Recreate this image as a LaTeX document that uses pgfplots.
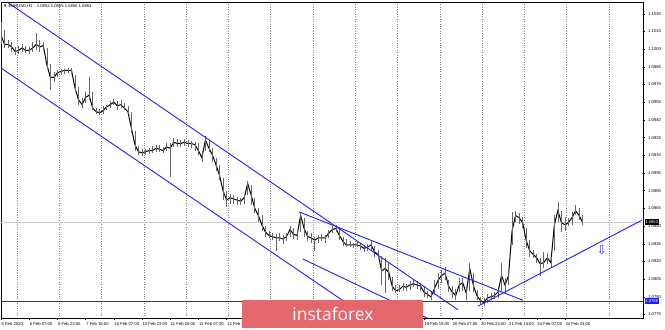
\documentclass[border=0pt]{standalone}
\usepackage{fontspec}
\setmainfont{Liberation Sans}
\newfontfamily\dejavu{DejaVu Sans}
\newfontfamily\opensans{Open Sans}
\usepackage{pgfplots}
\usepackage{pgfplotstable}
\pgfplotsset{compat=1.18}
\definecolor{mtblue}{RGB}{30,30,250}
\definecolor{logored}{RGB}{226,104,108}

\pgfplotstableread{
b c h l
0 1.1012 1.1023 1.1004
2 1.1004 1.1016 1.1001
4 1.1004 1.1008 1.1001
6 1.1002 1.1006 1.0998
8 1.0998 1.1002 1.0995
10 1.0999 1.1003 1.0996
12 1.1001 1.1004 1.0998
14 1.0999 1.1003 1.0997
16 1.0999 1.1002 1.0996
18 1.1001 1.1006 1.0998
20 1.1004 1.1014 1.0999
22 1.1002 1.1008 1.0998
24 1.1003 1.1006 1.0999
26 1.0987 1.1001 1.0984
28 1.0976 1.0987 1.0965
30 1.0976 1.0981 1.0972
32 1.0980 1.0982 1.0976
34 1.0981 1.0983 1.0978
36 1.0982 1.0983 1.0979
38 1.0982 1.0984 1.0980
40 1.0982 1.0984 1.0979
42 1.0967 1.0978 1.0964
44 1.0957 1.0968 1.0953
46 1.0953 1.0959 1.0950
48 1.0959 1.0964 1.0954
50 1.0961 1.0976 1.0957
52 1.0950 1.0964 1.0948
54 1.0947 1.0950 1.0945
56 1.0946 1.0949 1.0944
58 1.0948 1.0952 1.0945
60 1.0951 1.0953 1.0948
62 1.0953 1.0956 1.0950
64 1.0955 1.0958 1.0953
66 1.0952 1.0956 1.0948
68 1.0953 1.0957 1.0950
70 1.0950 1.0954 1.0948
72 1.0947 1.0952 1.0945
74 1.0933 1.0947 1.0929
76 1.0919 1.0931 1.0914
78 1.0913 1.0918 1.0910
80 1.0912 1.0915 1.0909
82 1.0913 1.0915 1.0910
84 1.0914 1.0916 1.0911
86 1.0914 1.0918 1.0912
88 1.0916 1.0919 1.0913
90 1.0915 1.0919 1.0913
92 1.0914 1.0917 1.0912
94 1.0917 1.0920 1.0914
96 1.0916 1.0920 1.0892
98 1.0921 1.0925 1.0917
100 1.0920 1.0924 1.0917
102 1.0920 1.0923 1.0917
104 1.0921 1.0924 1.0918
106 1.0920 1.0923 1.0917
108 1.0920 1.0922 1.0916
110 1.0919 1.0921 1.0914
112 1.0914 1.0920 1.0910
114 1.0908 1.0914 1.0904
116 1.0923 1.0926 1.0914
118 1.0916 1.0923 1.0913
120 1.0910 1.0916 1.0904
122 1.0902 1.0908 1.0897
124 1.0893 1.0902 1.0889
126 1.0880 1.0891 1.0872
128 1.0872 1.0880 1.0866
130 1.0874 1.0877 1.0869
132 1.0873 1.0876 1.0869
134 1.0872 1.0875 1.0868
136 1.0871 1.0874 1.0868
138 1.0874 1.0877 1.0869
140 1.0886 1.0888 1.0876
142 1.0876 1.0885 1.0868
144 1.0865 1.0874 1.0861
146 1.0859 1.0865 1.0853
148 1.0851 1.0859 1.0846
150 1.0845 1.0850 1.0841
152 1.0842 1.0846 1.0840
154 1.0841 1.0844 1.0838
156 1.0840 1.0843 1.0829
158 1.0840 1.0844 1.0837
160 1.0839 1.0842 1.0835
162 1.0841 1.0844 1.0837
164 1.0847 1.0850 1.0841
166 1.0843 1.0848 1.0839
168 1.0842 1.0846 1.0838
170 1.0859 1.0862 1.0845
172 1.0848 1.0857 1.0841
174 1.0841 1.0846 1.0837
176 1.0840 1.0844 1.0836
178 1.0838 1.0841 1.0829
180 1.0840 1.0842 1.0836
182 1.0840 1.0843 1.0837
184 1.0840 1.0842 1.0836
186 1.0844 1.0847 1.0840
188 1.0847 1.0850 1.0844
190 1.0848 1.0851 1.0845
192 1.0842 1.0848 1.0838
194 1.0837 1.0841 1.0833
196 1.0834 1.0839 1.0832
198 1.0834 1.0837 1.0832
200 1.0834 1.0836 1.0831
202 1.0834 1.0837 1.0832
204 1.0833 1.0836 1.0830
206 1.0831 1.0834 1.0828
208 1.0832 1.0835 1.0829
210 1.0834 1.0837 1.0829
212 1.0828 1.0833 1.0824
214 1.0826 1.0830 1.0823
216 1.0812 1.0825 1.0800
218 1.0814 1.0823 1.0793
220 1.0811 1.0819 1.0804
222 1.0799 1.0807 1.0795
224 1.0795 1.0800 1.0793
226 1.0796 1.0800 1.0794
228 1.0799 1.0802 1.0795
230 1.0798 1.0801 1.0795
232 1.0800 1.0803 1.0796
234 1.0801 1.0805 1.0798
236 1.0800 1.0803 1.0797
238 1.0799 1.0802 1.0795
240 1.0794 1.0799 1.0790
242 1.0792 1.0795 1.0789
244 1.0790 1.0795 1.0787
246 1.0797 1.0804 1.0792
248 1.0804 1.0810 1.0797
250 1.0808 1.0813 1.0802
252 1.0810 1.0815 1.0804
254 1.0799 1.0804 1.0794
256 1.0794 1.0799 1.0789
258 1.0791 1.0797 1.0787
260 1.0800 1.0806 1.0794
262 1.0802 1.0806 1.0795
264 1.0793 1.0798 1.0787
266 1.0814 1.0819 1.0795
268 1.0800 1.0810 1.0794
270 1.0791 1.0796 1.0787
272 1.0787 1.0790 1.0784
274 1.0785 1.0789 1.0782
276 1.0789 1.0792 1.0785
278 1.0790 1.0793 1.0787
280 1.0791 1.0794 1.0788
282 1.0794 1.0797 1.0789
284 1.0808 1.0819 1.0795
286 1.0800 1.0806 1.0793
288 1.0808 1.0812 1.0800
290 1.0846 1.0862 1.0834
292 1.0859 1.0863 1.0853
294 1.0857 1.0861 1.0852
296 1.0853 1.0858 1.0848
298 1.0838 1.0848 1.0831
300 1.0829 1.0838 1.0824
302 1.0826 1.0830 1.0823
304 1.0823 1.0826 1.0819
306 1.0818 1.0823 1.0808
308 1.0819 1.0828 1.0814
310 1.0823 1.0827 1.0818
312 1.0819 1.0824 1.0814
314 1.0851 1.0859 1.0829
316 1.0863 1.0870 1.0853
318 1.0853 1.0863 1.0845
320 1.0851 1.0858 1.0846
322 1.0853 1.0857 1.0850
324 1.0857 1.0862 1.0851
326 1.0863 1.0868 1.0859
328 1.0859 1.0865 1.0855
330 1.0853 1.0859 1.0851
}\pricedata

\begin{document}
\begin{tikzpicture}
\useasboundingbox (0,0) rectangle (665bp,330bp);
\begin{axis}[
  at={(1bp,12bp)}, anchor=south west,
  scale only axis, width=642bp, height=316bp,
  xmin=0, xmax=364.3, ymin=1.0772, ymax=1.1040,
  axis line style={black, line width=0.5pt},
  xtick={0,16,...,128,240,256,...,320},
  xticklabels={5 Feb 2020, 6 Feb 07:00, 6 Feb 23:00, 7 Feb 15:00, 10 Feb 07:00, 10 Feb 23:00, 11 Feb 15:00, 12 Feb 07:00, 12 Feb 23:00, 19 Feb 15:00, 20 Feb 07:00, 20 Feb 23:00, 21 Feb 15:00, 24 Feb 07:00, 24 Feb 23:00},
  x tick label style={anchor=north west, inner sep=0pt, xshift=0.5bp, yshift=-2.5bp, font=\fontsize{4.2}{5}\selectfont},
  ytick={1.0775,1.0790,1.0805,1.0820,1.0835,1.0850,1.0865,1.0880,1.0895,1.0910,1.0925,1.0940,1.0955,1.0970,1.0985,1.1000,1.1015,1.1030},
  scaled y ticks=false,
  xtick pos=bottom, ytick pos=right, yticklabel pos=right,
  y tick label style={anchor=west, inner sep=0pt, xshift=3bp, font=\fontsize{4.2}{5}\selectfont,
    /pgf/number format/.cd, fixed, fixed zerofill, precision=4, assume math mode=true},
  tick align=outside, major tick length=2bp,
  tick style={black, line width=0.4pt},
  minor xtick={9,33,...,345}, minor tick length=0pt,
  xminorgrids, minor grid style={dotted, black!50, line width=0.45pt},
  clip=true,
]
\addplot[black!20, line width=0.5pt] coordinates {(0,1.0853) (364.3,1.0853)};
\addplot[black, line width=1.0pt, mark=none,
  error bars/.cd, y dir=both, y explicit, error mark=none,
  error bar style={black!60, line width=0.6pt}]
  table[x=b, y=c, y error plus expr=\thisrow{h}-\thisrow{c}, y error minus expr=\thisrow{c}-\thisrow{l}] {\pricedata};
\addplot[mtblue, line width=0.9pt] coordinates {(0,1.0786) (364.3,1.0786)};
\addplot[mtblue, line width=0.9pt] coordinates {(3.4,1.1040) (259.3,1.0779)};
\addplot[mtblue, line width=0.9pt] coordinates {(169.1,1.0862) (296.2,1.0787)};
\addplot[mtblue, line width=0.9pt] coordinates {(270.6,1.0782) (363.7,1.0855)};
\addplot[mtblue, line width=0.9pt] coordinates {(0,1.0984) (210.5,1.0770)};
\addplot[mtblue, line width=0.9pt] coordinates {(171.3,1.0822) (244.5,1.0770)};
\coordinate (pcur) at (axis cs:364.3,1.0853);
\coordinate (phor) at (axis cs:364.3,1.0786);
\coordinate (parrow) at (axis cs:341,1.0829);
\end{axis}
\node[mtblue, font=\dejavu\fontsize{12}{12}\selectfont, inner sep=0pt] at (parrow) {⇩};
\node[fill=black, text=white, anchor=west, inner sep=0.6bp, minimum height=6bp, font=\fontsize{4.2}{5}\selectfont] at ([xshift=1.5bp]pcur) {1.0853};
\node[fill=mtblue, text=white, anchor=west, inner sep=0.6bp, minimum height=6bp, font=\fontsize{4.2}{5}\selectfont] at ([xshift=1.5bp]phor) {1.0786};
\node[anchor=north west, inner sep=0pt, font=\fontsize{4.2}{5}\selectfont] at (3bp,326bp) {▼ EURUSD,H1\quad 1.0852 1.0855 1.0850 1.0853};
\fill[logored] (242bp,2bp) rectangle (423bp,30bp);
\node[white, font=\opensans\fontsize{17.5}{18}\selectfont, inner sep=0pt] at (333bp,16bp) {instaforex};
\end{tikzpicture}
\end{document}
